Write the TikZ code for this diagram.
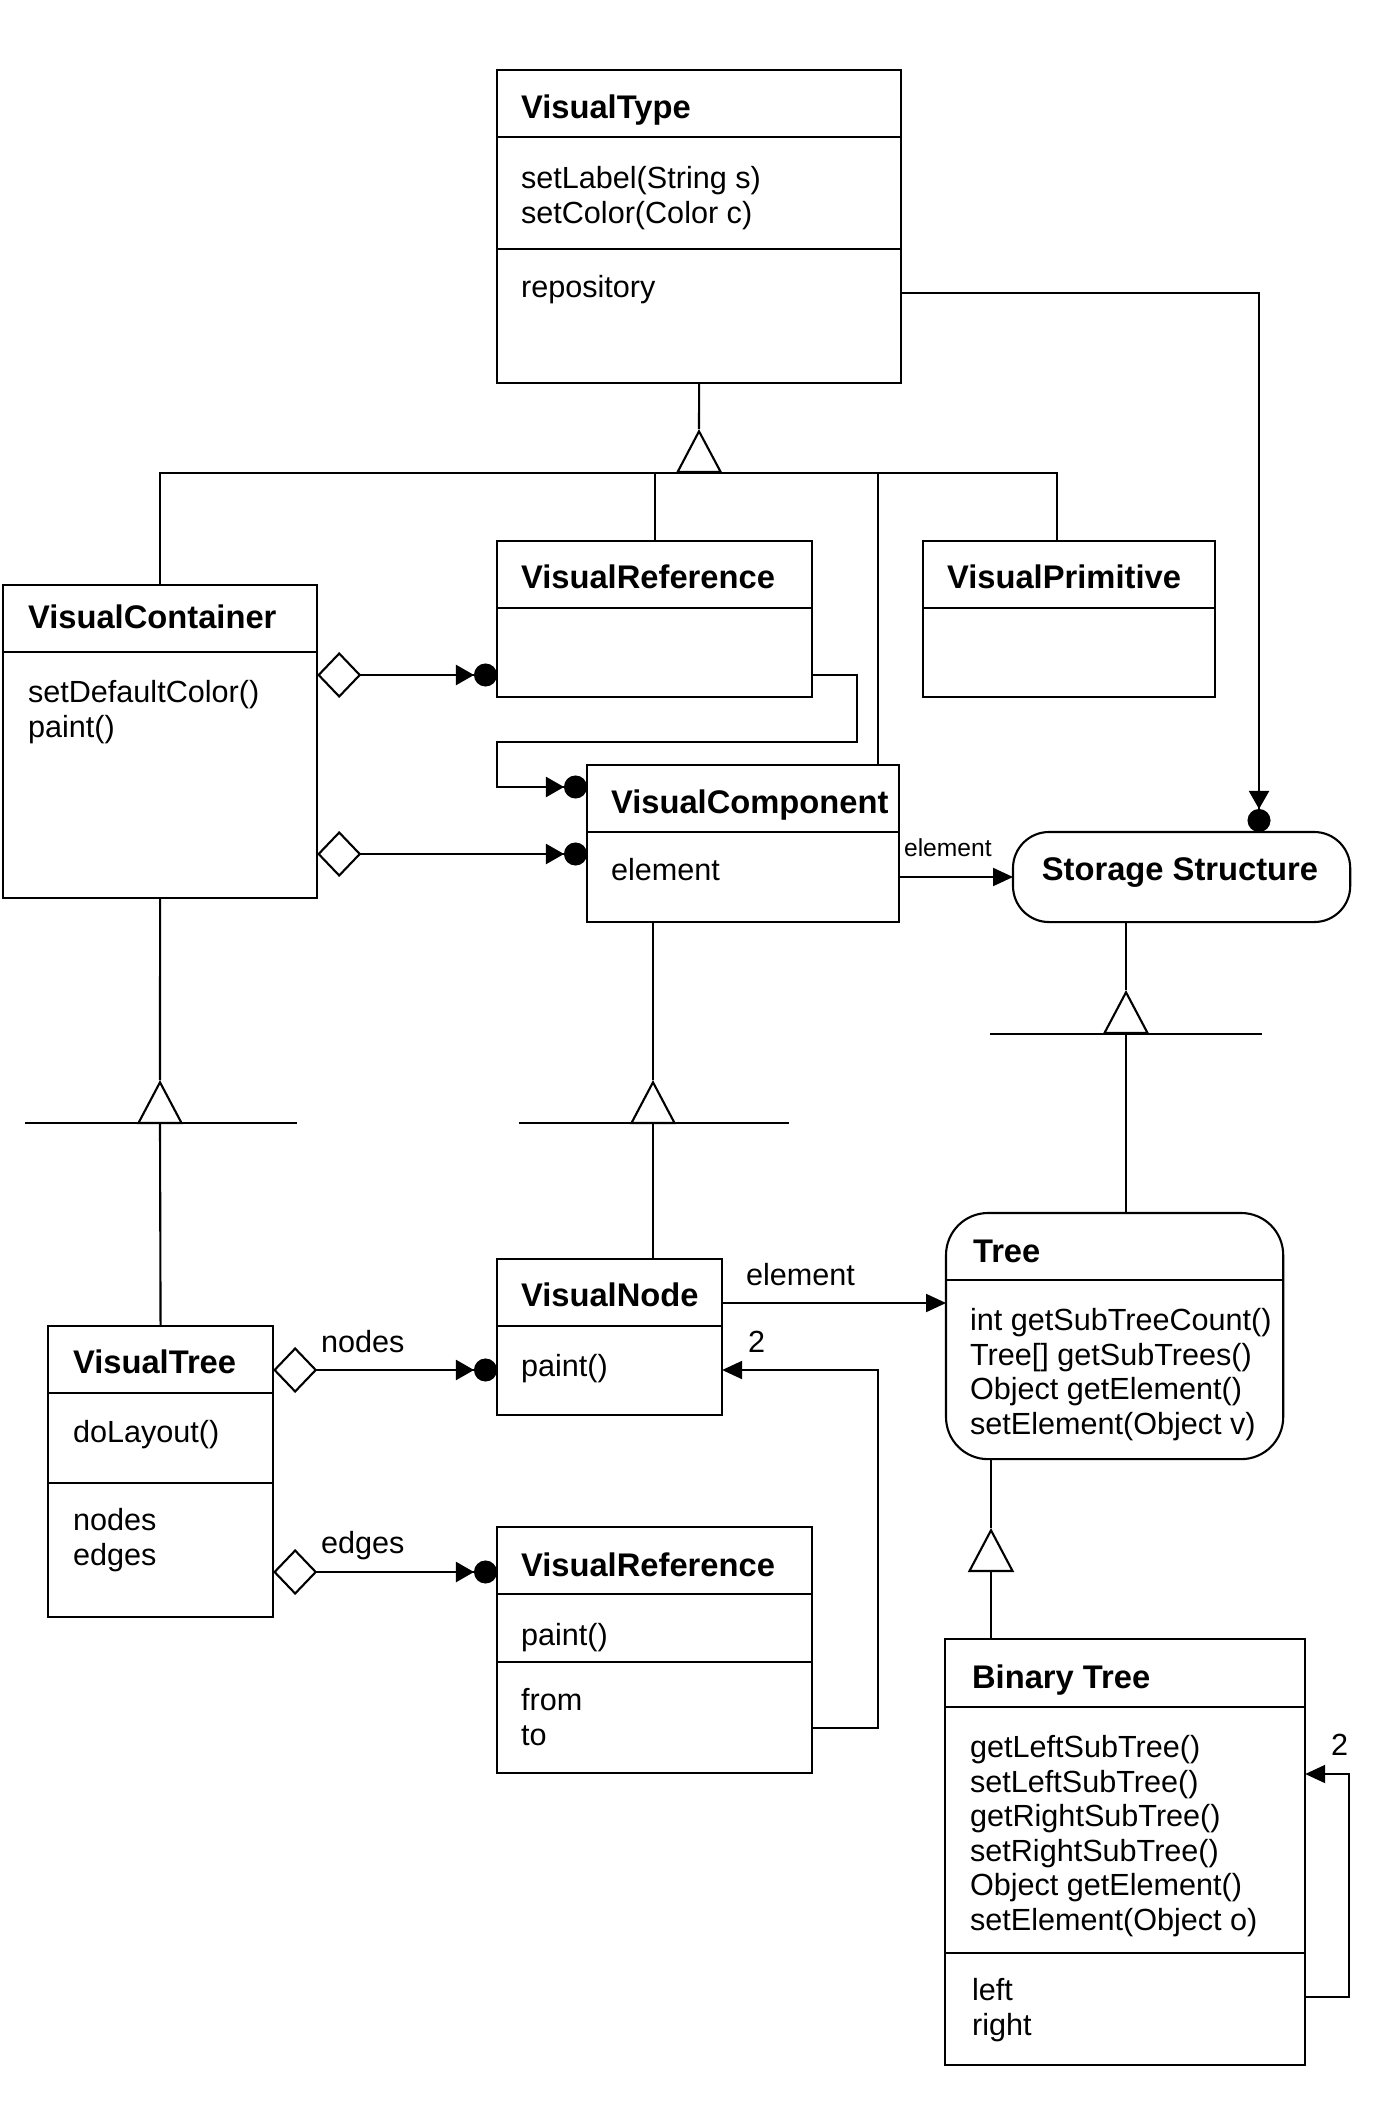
\documentclass[tikz,border=0pt]{standalone}
\usepackage{fontspec}
\setmainfont{Liberation Sans}
\usepackage{tikz}
\usetikzlibrary{calc}
\usetikzlibrary{arrows.meta}

\newcommand\memfont{\fontsize{8.7}{10}\selectfont}
\newcommand\ttlfont{\fontsize{9.3}{11}\selectfont\bfseries}
\newcommand\lblfont{\fontsize{7}{8}\selectfont}

\tikzset{
  classbox/.style={draw, inner sep=0pt, outer sep=0pt, anchor=north west},
  title/.style={anchor=west, inner sep=0pt, font=\ttlfont, text height=6pt, text depth=0pt},
  member/.style={anchor=west, inner sep=0pt, font=\memfont, text height=6pt, text depth=0pt},
  lbl/.style={anchor=west, inner sep=0pt, font=\lblfont, text height=5pt, text depth=0pt},
  gen/.style={-{Triangle[open,length=0.44cm,width=0.46cm]}},
  aggr/.style={{Diamond[open,length=0.44cm,width=0.46cm]}-{Triangle[length=0.18cm,width=0.2cm] Circle[length=0.23cm]}},
  navball/.style={-{Triangle[length=0.18cm,width=0.2cm] Circle[length=0.23cm]}},
  nav/.style={-{Triangle[length=0.2cm,width=0.18cm]}}
}

\begin{document}
\begin{tikzpicture}[x=0.01cm, y=-0.01cm, line width=0.6pt]
  % Constants
  \pgfmathsetmacro\lh{34.6}
  % Boundary
  \useasboundingbox (0,0) rectangle (1377,2104);

  % VisualType
  \node[classbox, minimum width=4.04cm, minimum height=3.13cm] (vtype) at (497,70) {};
  \draw (vtype.west |- 0,137) -- (vtype.east |- 0,137);
  \draw (vtype.west |- 0,249) -- (vtype.east |- 0,249);
  \node[title] (vtype-t) at (520,108) {VisualType};
  \foreach \m [count=\i] in {setLabel(String s),setColor(Color c)}
    \node[member] (vtype-m\i) at (520,{178+\lh*(\i-1)}) {\m};
  \node[member] (vtype-a1) at (520,287) {repository};

  % VisualContainer
  \node[classbox, minimum width=3.14cm, minimum height=3.13cm] (vcont) at (3,585) {};
  \draw (vcont.west |- 0,652) -- (vcont.east |- 0,652);
  \node[title] (vcont-t) at (27,618) {VisualContainer};
  \foreach \m [count=\i] in {setDefaultColor(),paint()}
    \node[member] (vcont-m\i) at (27,{692+\lh*(\i-1)}) {\m};

  % VisualReference (top)
  \node[classbox, minimum width=3.15cm, minimum height=1.56cm] (vref) at (497,541) {};
  \draw (vref.west |- 0,608) -- (vref.east |- 0,608);
  \node[title] (vref-t) at (520,578) {VisualReference};

  % VisualPrimitive
  \node[classbox, minimum width=2.92cm, minimum height=1.56cm] (vprim) at (923,541) {};
  \draw (vprim.west |- 0,608) -- (vprim.east |- 0,608);
  \node[title] (vprim-t) at (946,578) {VisualPrimitive};

  % VisualComponent
  \node[classbox, minimum width=3.12cm, minimum height=1.57cm] (vcomp) at (587,765) {};
  \draw (vcomp.west |- 0,832) -- (vcomp.east |- 0,832);
  \node[title] (vcomp-t) at (610,803) {VisualComponent};
  \node[member] (vcomp-a1) at (610,870) {element};

  % Storage Structure
  \node[classbox, rounded corners=0.36cm, minimum width=3.37cm, minimum height=0.9cm] (storage) at (1013,832) {};
  \node[title, anchor=center] (storage-t) at (1180,870) {Storage Structure};

  % Tree
  \node[classbox, rounded corners=0.42cm, minimum width=3.37cm, minimum height=2.46cm] (tree) at (946,1213) {};
  \draw (tree.west |- 0,1280) -- (tree.east |- 0,1280);
  \node[title] (tree-t) at (972,1252) {Tree};
  \foreach \m [count=\i] in {int getSubTreeCount(),Tree[] getSubTrees(),Object getElement(),setElement(Object v)}
    \node[member] (tree-m\i) at (969,{1320+\lh*(\i-1)}) {\m};

  % VisualNode
  \node[classbox, minimum width=2.25cm, minimum height=1.56cm] (vnode) at (497,1259) {};
  \draw (vnode.west |- 0,1326) -- (vnode.east |- 0,1326);
  \node[title] (vnode-t) at (520,1296) {VisualNode};
  \node[member] (vnode-m1) at (520,1366) {paint()};

  % VisualTree
  \node[classbox, minimum width=2.25cm, minimum height=2.91cm] (vtree) at (48,1326) {};
  \draw (vtree.west |- 0,1393) -- (vtree.east |- 0,1393);
  \draw (vtree.west |- 0,1483) -- (vtree.east |- 0,1483);
  \node[title] (vtree-t) at (72,1363) {VisualTree};
  \node[member] (vtree-m1) at (72,1432) {doLayout()};
  \foreach \m [count=\i] in {nodes,edges}
    \node[member] (vtree-a\i) at (72,{1520+\lh*(\i-1)}) {\m};

  % VisualReference (bottom)
  \node[classbox, minimum width=3.15cm, minimum height=2.46cm] (vref2) at (497,1527) {};
  \draw (vref2.west |- 0,1594) -- (vref2.east |- 0,1594);
  \draw (vref2.west |- 0,1662) -- (vref2.east |- 0,1662);
  \node[title] (vref2-t) at (520,1566) {VisualReference};
  \node[member] (vref2-m1) at (520,1635) {paint()};
  \foreach \m [count=\i] in {from,to}
    \node[member] (vref2-a\i) at (520,{1700+\lh*(\i-1)}) {\m};

  % Binary Tree
  \node[classbox, minimum width=3.60cm, minimum height=4.26cm] (btree) at (945,1639) {};
  \draw (btree.west |- 0,1707) -- (btree.east |- 0,1707);
  \draw (btree.west |- 0,1953) -- (btree.east |- 0,1953);
  \node[title] (btree-t) at (971,1678) {Binary Tree};
  \foreach \m [count=\i] in {getLeftSubTree(),setLeftSubTree(),getRightSubTree(),setRightSubTree(),Object getElement(),setElement(Object o)}
    \node[member] (btree-m\i) at (969,{1747+\lh*(\i-1)}) {\m};
  \foreach \m [count=\i] in {left,right}
    \node[member] (btree-a\i) at (971,{1990+\lh*(\i-1)}) {\m};

  % Generalization to VisualType
  \coordinate (top-apex) at (699,429);
  \coordinate (bus-r) at (1057,473);
  \coordinate (bus-c) at (878,473);
  \draw (vtype.south) -- (top-apex);
  \draw[gen] (vtype.south |- bus-r) -- (top-apex);
  \draw (vcont.north) |- (bus-r) -- (bus-r |- vprim.north);
  \draw (vref.north |- bus-r) -- (vref.north);
  \draw (bus-c) -- (bus-c |- vcomp.north);

  % Generalization VisualTree -> VisualContainer
  \coordinate (left-apex) at (160,1080);
  \coordinate (lbar-l) at (25,1123);
  \coordinate (lbar-r) at (297,1123);
  \draw (vcont.south) -- (left-apex);
  \draw[gen] (left-apex |- lbar-l) -- (left-apex);
  \draw (lbar-l) -- (lbar-r);
  \draw (left-apex |- lbar-l) -- (vtree.north);

  % Generalization VisualNode -> VisualComponent
  \coordinate (mid-apex) at (653,1080);
  \coordinate (mbar-l) at (519,1123);
  \coordinate (mbar-r) at (789,1123);
  \draw (mid-apex |- vcomp.south) -- (mid-apex);
  \draw[gen] (mid-apex |- mbar-l) -- (mid-apex);
  \draw (mbar-l) -- (mbar-r);
  \draw (mid-apex |- mbar-l) -- (mid-apex |- vnode.north);

  % Generalization Tree -> Storage Structure
  \coordinate (right-apex) at (1126,990);
  \coordinate (rbar-l) at (990,1034);
  \coordinate (rbar-r) at (1262,1034);
  \draw (right-apex |- storage.south) -- (right-apex);
  \draw[gen] (right-apex |- rbar-l) -- (right-apex);
  \draw (rbar-l) -- (rbar-r);
  \draw (right-apex |- rbar-l) -- (right-apex |- tree.north);

  % Generalization Binary Tree -> Tree
  \coordinate (tree-apex) at (991,1528);
  \coordinate (tree-base) at (991,1572);
  \draw (tree-apex |- tree.south) -- (tree-apex);
  \draw[gen] (tree-base) -- (tree-apex);
  \draw (tree-base) -- (tree-base |- btree.north);

  % Aggregations
  \draw[aggr] (vcont.east |- 0,675) -- (vref.west |- 0,675);
  \draw[aggr] (vcont.east |- 0,854) -- (vcomp.west |- 0,854);
  \draw[aggr] (vtree.east |- 0,1370) -- (vnode.west |- 0,1370);
  \draw[aggr] (vtree.east |- 0,1572) -- (vref2.west |- 0,1572);
  \node[member] (lbl-nodes) at (320,1342) {nodes};
  \node[member] (lbl-edges) at (320,1543) {edges};

  % Associations
  \coordinate (ref-a) at (857,742);
  \draw[navball] (vref.east |- 0,675) -| (ref-a) -| (vref.west |- 0,787) -- (vcomp.west |- 0,787);
  \coordinate (repo-turn) at (1259,293);
  \draw[navball] (vtype.east |- repo-turn) -- (repo-turn) -- (repo-turn |- storage.north);
  \draw[nav] (vcomp.east |- 0,877) -- (storage.west |- 0,877);
  \node[lbl] (lbl-elem-a) at (903,848) {element};
  \draw[nav] (vnode.east |- 0,1303) -- (tree.west |- 0,1303);
  \node[member] (lbl-elem-b) at (745,1275) {element};
  \coordinate (ret-a) at (878,1370);
  \draw[nav] (vref2.east |- 0,1728) -| (ret-a) -- (vnode.east |- ret-a);
  \node[member] (lbl-two-a) at (747,1342) {2};
  \coordinate (self-a) at (1349,1774);
  \draw[nav] (btree.east |- 0,1997) -| (self-a) -- (btree.east |- self-a);
  \node[member] (lbl-two-b) at (1330,1745) {2};
\end{tikzpicture}
\end{document}
